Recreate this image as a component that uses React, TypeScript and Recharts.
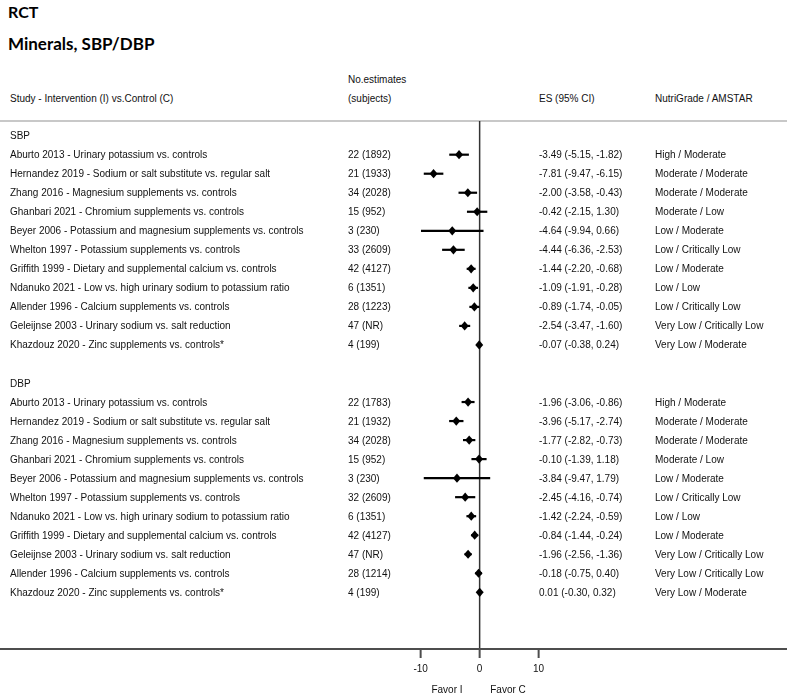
import React from 'react';
import {
  ComposedChart,
  Scatter,
  XAxis,
  YAxis,
  ErrorBar,
  ReferenceLine,
} from 'recharts';

// SBP block
const sbpStudies = [
  'Aburto 2013 - Urinary potassium vs. controls',
  'Hernandez 2019 - Sodium or salt substitute vs. regular salt',
  'Zhang 2016 - Magnesium supplements vs. controls',
  'Ghanbari 2021 - Chromium supplements vs. controls',
  'Beyer 2006 - Potassium and magnesium supplements vs. controls',
  'Whelton 1997 - Potassium supplements vs. controls',
  'Griffith 1999 - Dietary and supplemental calcium vs. controls',
  'Ndanuko 2021 - Low vs. high urinary sodium to potassium ratio',
  'Allender 1996 - Calcium supplements vs. controls',
  'Geleijnse 2003 - Urinary sodium vs. salt reduction',
  'Khazdouz 2020 - Zinc supplements vs. controls*',
];
const sbpEstimates = [22, 21, 34, 15, 3, 33, 42, 6, 28, 47, 4];
const sbpSubjects = ['1892', '1933', '2028', '952', '230', '2609', '4127', '1351', '1223', 'NR', '199'];
const sbpES = [-3.49, -7.81, -2.0, -0.42, -4.64, -4.44, -1.44, -1.09, -0.89, -2.54, -0.07];
const sbpLow = [-5.15, -9.47, -3.58, -2.15, -9.94, -6.36, -2.2, -1.91, -1.74, -3.47, -0.38];
const sbpHigh = [-1.82, -6.15, -0.43, 1.3, 0.66, -2.53, -0.68, -0.28, -0.05, -1.6, 0.24];
const sbpGrade = [
  'High / Moderate',
  'Moderate / Moderate',
  'Moderate / Moderate',
  'Moderate / Low',
  'Low / Moderate',
  'Low / Critically Low',
  'Low / Moderate',
  'Low / Low',
  'Low / Critically Low',
  'Very Low / Critically Low',
  'Very Low / Moderate',
];

// DBP block
const dbpStudies = [
  'Aburto 2013 - Urinary potassium vs. controls',
  'Hernandez 2019 - Sodium or salt substitute vs. regular salt',
  'Zhang 2016 - Magnesium supplements vs. controls',
  'Ghanbari 2021 - Chromium supplements vs. controls',
  'Beyer 2006 - Potassium and magnesium supplements vs. controls',
  'Whelton 1997 - Potassium supplements vs. controls',
  'Ndanuko 2021 - Low vs. high urinary sodium to potassium ratio',
  'Griffith 1999 - Dietary and supplemental calcium vs. controls',
  'Geleijnse 2003 - Urinary sodium vs. salt reduction',
  'Allender 1996 - Calcium supplements vs. controls',
  'Khazdouz 2020 - Zinc supplements vs. controls*',
];
const dbpEstimates = [22, 21, 34, 15, 3, 32, 6, 42, 47, 28, 4];
const dbpSubjects = ['1783', '1932', '2028', '952', '230', '2609', '1351', '4127', 'NR', '1214', '199'];
const dbpES = [-1.96, -3.96, -1.77, -0.1, -3.84, -2.45, -1.42, -0.84, -1.96, -0.18, 0.01];
const dbpLow = [-3.06, -5.17, -2.82, -1.39, -9.47, -4.16, -2.24, -1.44, -2.56, -0.75, -0.3];
const dbpHigh = [-0.86, -2.74, -0.73, 1.18, 1.79, -0.74, -0.59, -0.24, -1.36, 0.4, 0.32];
const dbpGrade = [
  'High / Moderate',
  'Moderate / Moderate',
  'Moderate / Moderate',
  'Moderate / Low',
  'Low / Moderate',
  'Low / Critically Low',
  'Low / Low',
  'Low / Moderate',
  'Very Low / Critically Low',
  'Very Low / Critically Low',
  'Very Low / Moderate',
];

const sections = ['SBP', 'DBP'];
const xTicks = [-10, 0, 10];

const W = 787;
const H = 694;
const FONT = '"Liberation Sans", Arial, sans-serif';
const TITLE_FONT = 'Lato, "Open Sans", sans-serif';
const TXT = '#111';

// pixel columns for the text table
const COL_STUDY = 10;
const COL_N = 348;
const COL_ES = 539;
const COL_GRADE = 655;

const fmt = (v: number) => v.toFixed(2);

const buildRows = (
  start: number,
  studies: string[],
  est: number[],
  subj: string[],
  es: number[],
  lo: number[],
  hi: number[],
  grade: string[]
) =>
  studies.map((s, i) => ({
    row: start + i,
    es: es[i],
    err: [es[i] - lo[i], hi[i] - es[i]],
    study: s,
    n: `${est[i]} (${subj[i]})`,
    ci: `${fmt(es[i])} (${fmt(lo[i])}, ${fmt(hi[i])})`,
    grade: grade[i],
  }));

const rows = [
  ...buildRows(1, sbpStudies, sbpEstimates, sbpSubjects, sbpES, sbpLow, sbpHigh, sbpGrade),
  ...buildRows(14, dbpStudies, dbpEstimates, dbpSubjects, dbpES, dbpLow, dbpHigh, dbpGrade),
];
const headerRows = sections.map((name, i) => ({ row: i * 13, es: 0, name }));

const StudyShape = (props: any) => {
  const { cx, cy, payload } = props;
  if (cx == null || cy == null) return null;
  const t = { fontFamily: FONT, fontSize: 10, fill: TXT, dominantBaseline: 'central' as const };
  return (
    <g>
      <text x={COL_STUDY} y={cy} {...t}>{payload.study}</text>
      <text x={COL_N} y={cy} {...t}>{payload.n}</text>
      <text x={COL_ES} y={cy} {...t}>{payload.ci}</text>
      <text x={COL_GRADE} y={cy} {...t}>{payload.grade}</text>
      <polygon
        points={`${cx},${cy - 4.6} ${cx + 4},${cy} ${cx},${cy + 4.6} ${cx - 4},${cy}`}
        fill="#000"
      />
    </g>
  );
};

const HeaderShape = (props: any) => {
  const { cy, payload } = props;
  if (cy == null) return null;
  return (
    <text x={COL_STUDY} y={cy} fontFamily={FONT} fontSize={10} fill={TXT} dominantBaseline="central">
      {payload.name}
    </text>
  );
};

const label = (x: number, y: number, text: string, extra: React.CSSProperties = {}) => (
  <div
    style={{
      position: 'absolute',
      left: x,
      top: y,
      fontFamily: FONT,
      fontSize: 10,
      color: TXT,
      whiteSpace: 'nowrap',
      lineHeight: '12px',
      ...extra,
    }}
  >
    {text}
  </div>
);

export default function App() {
  return (
    <div style={{ position: 'fixed', left: 0, top: 0, width: W, height: H, background: '#fff' }}>
      <div style={{ position: 'absolute', left: 8, top: 2, fontFamily: TITLE_FONT, fontWeight: 700, fontSize: 16, lineHeight: '20px', color: '#000' }}>
        RCT
      </div>
      <div style={{ position: 'absolute', left: 8, top: 33, fontFamily: TITLE_FONT, fontWeight: 700, fontSize: 17, lineHeight: '22px', color: '#000' }}>
        Minerals, SBP/DBP
      </div>
      {label(COL_N, 74, 'No.estimates')}
      {label(COL_N, 93, '(subjects)')}
      {label(COL_STUDY, 93, 'Study - Intervention (I) vs.Control (C)')}
      {label(COL_ES, 93, 'ES (95% CI)')}
      {label(COL_GRADE, 93, 'NutriGrade / AMSTAR')}
      {label(447, 684, 'Favor I', { transform: 'translateX(-50%)' })}
      {label(508, 684, 'Favor C', { transform: 'translateX(-50%)' })}

      <ComposedChart width={W} height={H} margin={{ top: 121, right: 0, bottom: 15, left: 0 }}>
        <XAxis
          type="number"
          dataKey="es"
          domain={[-81.3, 52.1]}
          ticks={xTicks}
          allowDataOverflow
          height={30}
          axisLine={{ stroke: '#4d4d4d', strokeWidth: 2 }}
          tickLine={{ stroke: '#4d4d4d', strokeWidth: 2 }}
          tickSize={9}
          tickMargin={7}
          tick={{ fontFamily: FONT, fontSize: 10, fill: TXT }}
        />
        <YAxis type="number" dataKey="row" domain={[-0.77, 26.98]} reversed hide allowDataOverflow />
        <ReferenceLine y={-0.77} stroke="#c8c8c8" strokeWidth={2} ifOverflow="visible" />
        <ReferenceLine x={0} stroke="#333" strokeWidth={1.5} />
        <Scatter data={headerRows} shape={HeaderShape} isAnimationActive={false} />
        <Scatter data={rows} shape={StudyShape} isAnimationActive={false}>
          <ErrorBar dataKey="err" direction="x" width={0} stroke="#000" strokeWidth={2.2} />
        </Scatter>
      </ComposedChart>
    </div>
  );
}
